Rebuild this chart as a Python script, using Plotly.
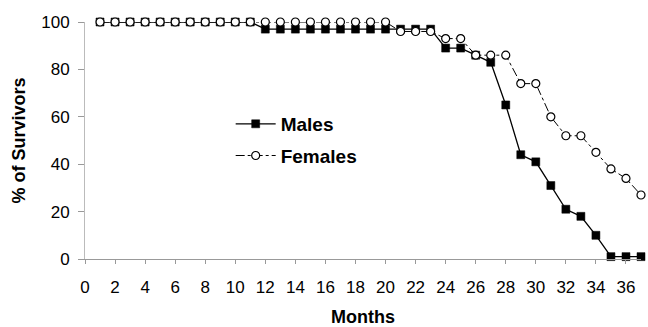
import plotly.graph_objects as go

months = list(range(1, 38))
males = [100]*11 + [97]*9 + [97, 97, 97, 89, 89, 86, 83, 65, 44, 41, 31, 21, 18, 10, 1, 1, 1]
females = [100]*20 + [96, 96, 96, 93, 93, 86, 86, 86, 74, 74, 60, 52, 52, 45, 38, 34, 27]
x_ticks = list(range(0, 37, 2))
y_ticks = list(range(0, 101, 20))

FONT = "Liberation Sans, Arial, sans-serif"

fig = go.Figure()
fig.add_trace(go.Scatter(
    x=months, y=males, name="<b>Males</b>", mode="lines+markers",
    line=dict(color="black", width=1.3),
    marker=dict(symbol="square", size=8, color="black", line=dict(color="black", width=0.5)),
    legendgroup="m",
))
fig.add_trace(go.Scatter(
    x=months, y=females, name="<b>Females</b>", mode="lines+markers",
    line=dict(color="black", width=1, dash="dashdot"),
    marker=dict(symbol="circle", size=8, color="white", line=dict(color="black", width=1.2)),
    legendgroup="f",
))

fig.update_layout(
    width=648, height=327,
    margin=dict(l=85, r=7, t=22, b=68),
    plot_bgcolor="white", paper_bgcolor="white",
    font=dict(family=FONT, size=17, color="black"),
    showlegend=True,
    legend=dict(x=0.262, y=0.65, xanchor="left", yanchor="top",
                font=dict(size=19, family=FONT), bgcolor="rgba(0,0,0,0)",
                tracegroupgap=4, itemwidth=40),
    xaxis=dict(range=[0, 37], tickvals=x_ticks, ticktext=[str(v) for v in x_ticks],
               showgrid=False, zeroline=False, showline=True, linecolor="#999", linewidth=1,
               ticks="outside", ticklen=4, tickcolor="#999", ticklabelstandoff=9,
               automargin=False,
               title=dict(text="<b>Months</b>", font=dict(size=18), standoff=17)),
    yaxis=dict(range=[0, 100], tickvals=y_ticks, ticktext=[str(v) for v in y_ticks],
               showgrid=False, zeroline=False, showline=True, linecolor="#bbb", linewidth=1,
               ticks="outside", ticklen=6, tickcolor="#999", ticklabelstandoff=5,
               automargin=False,
               title=dict(text="<b>% of Survivors</b>", font=dict(size=18), standoff=10)),
)
fig.update_traces(cliponaxis=False)

fig.write_html("out.html")
